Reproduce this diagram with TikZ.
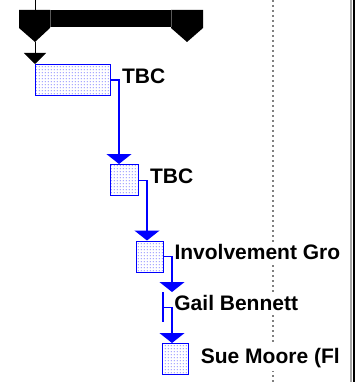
\documentclass[tikz,border=0pt]{standalone}
\usepackage{fontspec}
\setmainfont{Liberation Sans}
\usetikzlibrary{arrows.meta,patterns,calc}
\pgfdeclarepatternformonly{bdots}{\pgfqpoint{-1pt}{-1pt}}{\pgfqpoint{2pt}{2pt}}{\pgfqpoint{3pt}{3pt}}{%
  \pgfpathrectangle{\pgfqpoint{0pt}{0pt}}{\pgfqpoint{1.1pt}{1.1pt}}\pgfusepath{fill}}
\begin{document}
\begin{tikzpicture}[x=1pt,y=-1pt,
  task/.style={draw=blue, line width=1.3pt, pattern=bdots, pattern color=blue!80, inner sep=0pt, minimum height=31pt, anchor=north west},
  link/.style={draw=blue, line width=1.3pt, -{Triangle[width=25pt,length=10pt]}},
  lbl/.style={font=\fontsize{21}{24}\selectfont\bfseries, inner xsep=0pt, inner ysep=3pt, fill=white, anchor=base west},
  sumbar/.style={fill=black},
]
\useasboundingbox (0,0) rectangle (360,382);
% grid lines
\draw[gray, line width=1.6pt, dash pattern=on 2pt off 3pt] (273,0) -- (273,382);
\draw[gray!70, line width=1.5pt] (351,0) -- (351,382);
\draw[black, line width=2pt] (353.5,0) -- (353.5,382);
% summary bar
\draw[line width=1pt] (35,0) -- (35,10);
\fill[sumbar] (19,10) rectangle (203,27);
\fill[sumbar] (19,10) -- (50,10) -- (50,28) -- (35,42) -- (19,28) -- cycle;
\fill[sumbar] (171,10) -- (203,10) -- (203,28) -- (187,42) -- (171,28) -- cycle;
\draw[black!65, line width=0.6pt] (50,10) -- (50,27) (171,10) -- (171,27);
\coordinate (sumtip) at (35,42);
% tasks
\node[task, minimum width=75pt] (t1) at (35,64) {};
\node[task, minimum width=28pt] (t2) at (110,164) {};
\node[task, minimum width=27pt] (t3) at (136,240.5) {};
\node[inner sep=0pt, minimum width=0pt, minimum height=30pt, anchor=north] (g) at (163,292) {};
\draw[blue, line width=1.3pt] (g.north) -- (g.south);
\node[task, minimum width=26pt] (t5) at (162,343) {};
% links
\draw[line width=1pt, -{Triangle[width=22pt,length=11pt]}] (sumtip) -- (t1.north west);
\draw[link] (t1.east) -| ($(t2.north west)+(9,0)$);
\draw[link] (t2.east) -| ($(t3.north west)+(11,0)$);
\draw[link] (t3.east) -| ($(g.north)+(9,0)$);
\draw[link] (g.center) -| ($(t5.north west)+(10,0)$);
% labels
\node[lbl] (l1) at ($(t1.east)+(10.6,3.8)$) {TBC};
\node[lbl] (l2) at ($(t2.east)+(10.6,3.8)$) {TBC};
\node[lbl] (l3) at ($(t3.east)+(10,3.3)$) {Involvement Gro};
\node[lbl] (l4) at ($(g.east)+(11,3.7)$) {Gail Bennett};
\node[lbl] (l5) at ($(t5.east)+(11.4,4.5)$) {Sue Moore (Fl};
\end{tikzpicture}
\end{document}
